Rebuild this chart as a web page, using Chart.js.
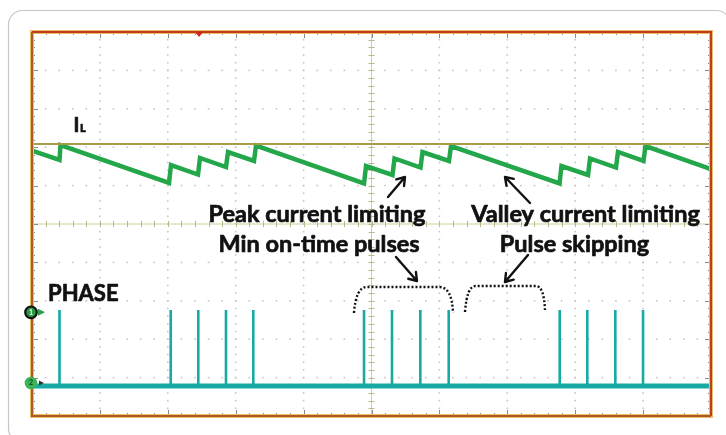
<!DOCTYPE html>
<html>
<head>
<meta charset="utf-8">
<script src="https://cdn.jsdelivr.net/npm/chart.js@4.4.1/dist/chart.umd.min.js"></script>
<style>
  html, body { margin: 0; padding: 0; background: #fff; overflow: hidden; }
  #wrap { width: 726px; height: 435px; position: relative; }
</style>
</head>
<body>
<div id="wrap"><canvas id="scope" width="726" height="435"></canvas></div>
<script>
// Screen is 10 x 10 divisions; all values below are in divisions.
const divX = 10;
const divY = 10;

// Inductor current I_L: vertices of the sawtooth (time, level)
const ilTime  = [0, 0.405, 0.420, 2.018, 2.047, 2.445, 2.474, 2.857, 2.887, 3.270, 3.299,
                 4.890, 4.919, 5.309, 5.339, 5.722, 5.751, 6.141, 6.171,
                 7.769, 7.798, 8.189, 8.218, 8.601, 8.630, 9.006, 9.035, 10];
const ilLevel = [6.914, 6.667, 7.057, 6.068, 6.536, 6.289, 6.719, 6.484, 6.875, 6.641, 7.044,
                 6.055, 6.510, 6.276, 6.706, 6.471, 6.875, 6.641, 7.031,
                 6.055, 6.510, 6.276, 6.706, 6.471, 6.875, 6.641, 7.031, 6.432];

// Peak-current limit level for I_L
const ilLimit = 7.083;

// PHASE node: switching pulse instants, pulse top and idle level
const pulseTime = [0.405, 2.043, 2.449, 2.857, 3.259, 4.890, 5.302, 5.719, 6.137,
                   7.772, 8.178, 8.591, 8.999];
const pulseTop = 2.76;
const phaseBase = 0.78;

// Channel reference markers on the left edge and trigger position on top
const ch1Mark = 2.70;
const ch2Mark = 0.86;
const triggerTime = 2.46;

// Annotation text
const labelPeak = ['Peak current limiting', 'Min on-time pulses'];
const labelValley = ['Valley current limiting', 'Pulse skipping'];
const labelPhase = 'PHASE';

// Build datasets
const ilPoints = ilTime.map((t, i) => ({ x: t, y: ilLevel[i] }));
const pulsePoints = [];
pulseTime.forEach(t => {
  pulsePoints.push({ x: t, y: phaseBase }, { x: t, y: pulseTop }, { x: t, y: null });
});

const FONT = 'Lato, "Open Sans", sans-serif';

function heavyText(ctx, txt, px, py) {
  ctx.fillText(txt, px, py);
  ctx.strokeText(txt, px, py);
}

function arrow(ctx, x, y, x0, y0, x1, y1) {
  const ax = x.getPixelForValue(x0), ay = y.getPixelForValue(y0);
  const bx = x.getPixelForValue(x1), by = y.getPixelForValue(y1);
  const ang = Math.atan2(by - ay, bx - ax);
  const h = 9, s = 0.6;
  ctx.beginPath();
  ctx.moveTo(ax, ay); ctx.lineTo(bx, by);
  ctx.moveTo(bx - h * Math.cos(ang - s), by - h * Math.sin(ang - s));
  ctx.lineTo(bx, by);
  ctx.lineTo(bx - h * Math.cos(ang + s), by - h * Math.sin(ang + s));
  ctx.stroke();
}

function bracket(ctx, x, y, xl, xcl, xcr, xr, yb, ybr, yt) {
  const pl = x.getPixelForValue(xl), pcl = x.getPixelForValue(xcl);
  const pcr = x.getPixelForValue(xcr), pr = x.getPixelForValue(xr);
  const pb = y.getPixelForValue(yb), pbr = y.getPixelForValue(ybr), pt = y.getPixelForValue(yt);
  ctx.beginPath();
  ctx.moveTo(pl, pb);
  ctx.quadraticCurveTo(pl + 2, pt, pcl, pt);
  ctx.lineTo(pcr, pt);
  ctx.quadraticCurveTo(pr - 1, pt, pr, pbr);
  ctx.stroke();
}

const scopePlugin = {
  id: 'scopeScreen',
  beforeDraw(chart) {
    const { ctx, chartArea: a, scales: { x, y } } = chart;
    ctx.save();
    ctx.fillStyle = '#fff';
    ctx.fillRect(0, 0, chart.width, chart.height);

    // card outline
    ctx.strokeStyle = '#c6c6c6';
    ctx.lineWidth = 1.2;
    ctx.beginPath();
    ctx.roundRect(8.5, 10.5, 722, 432, 14);
    ctx.stroke();

    // dotted graticule
    ctx.fillStyle = '#c6c6c6';
    for (let i = 1; i < divX; i++) {
      if (i === divX / 2) continue;
      const px = x.getPixelForValue(i);
      for (let j = 1; j < divY * 5; j++) {
        const py = y.getPixelForValue(j / 5);
        ctx.fillRect(px - 0.8, py - 0.8, 1.6, 1.6);
      }
    }
    for (let j = 1; j < divY; j++) {
      if (j === divY / 2) continue;
      const py = y.getPixelForValue(j);
      for (let i = 1; i < divX * 5; i++) {
        const px = x.getPixelForValue(i / 5);
        ctx.fillRect(px - 0.8, py - 0.8, 1.6, 1.6);
      }
    }

    // centre axes with minor ticks
    const cx = x.getPixelForValue(divX / 2), cy = y.getPixelForValue(divY / 2);
    ctx.strokeStyle = '#d3cf98';
    ctx.lineWidth = 1;
    ctx.beginPath();
    ctx.moveTo(cx, a.top); ctx.lineTo(cx, a.bottom);
    ctx.moveTo(a.left, cy); ctx.lineTo(a.right, cy);
    ctx.stroke();
    ctx.strokeStyle = '#b9b88e';
    ctx.beginPath();
    for (let j = 1; j < divY * 5; j++) {
      const py = Math.round(y.getPixelForValue(j / 5)) + 0.5;
      ctx.moveTo(cx - 3, py); ctx.lineTo(cx + 3, py);
    }
    for (let i = 1; i < divX * 5; i++) {
      const px = Math.round(x.getPixelForValue(i / 5)) + 0.5;
      ctx.moveTo(px, cy - 3); ctx.lineTo(px, cy + 3);
    }
    ctx.stroke();

    // ticks along the frame
    ctx.strokeStyle = '#8a8a8a';
    ctx.lineWidth = 1;
    ctx.beginPath();
    for (let j = 1; j < divY * 5; j++) {
      const py = Math.round(y.getPixelForValue(j / 5)) + 0.5;
      const len = j % 5 === 0 ? 6 : 3;
      ctx.moveTo(a.left, py); ctx.lineTo(a.left + len, py);
      ctx.moveTo(a.right, py); ctx.lineTo(a.right - len, py);
    }
    for (let i = 1; i < divX * 5; i++) {
      const px = Math.round(x.getPixelForValue(i / 5)) + 0.5;
      const len = i % 5 === 0 ? 6 : 3;
      ctx.moveTo(px, a.top); ctx.lineTo(px, a.top + len);
      ctx.moveTo(px, a.bottom); ctx.lineTo(px, a.bottom - len);
    }
    ctx.stroke();
    ctx.restore();
  },
  afterDatasetsDraw(chart) {
    const { ctx, chartArea: a, scales: { x, y } } = chart;
    ctx.save();

    // frame
    ctx.lineWidth = 4;
    ctx.strokeStyle = '#e6c066';
    ctx.strokeRect(a.left, a.top, a.right - a.left, a.bottom - a.top);
    ctx.lineWidth = 2;
    ctx.strokeStyle = '#c23b1d';
    ctx.beginPath();
    ctx.moveTo(a.left, a.top); ctx.lineTo(a.right, a.top); ctx.lineTo(a.right, a.bottom);
    ctx.stroke();
    ctx.strokeStyle = '#ad5a25';
    ctx.beginPath();
    ctx.moveTo(a.left, a.top); ctx.lineTo(a.left, a.bottom); ctx.lineTo(a.right, a.bottom);
    ctx.stroke();

    // trigger position marker
    const tx = x.getPixelForValue(triggerTime);
    ctx.fillStyle = '#d4231b';
    ctx.beginPath();
    ctx.moveTo(tx - 4, a.top); ctx.lineTo(tx + 4, a.top); ctx.lineTo(tx, a.top + 5);
    ctx.closePath(); ctx.fill();

    // channel markers
    const m1 = y.getPixelForValue(ch1Mark), m2 = y.getPixelForValue(ch2Mark);
    ctx.fillStyle = '#2e9e48';
    ctx.beginPath(); ctx.moveTo(a.left + 6, m1 - 3.5); ctx.lineTo(a.left + 13, m1); ctx.lineTo(a.left + 6, m1 + 3.5); ctx.fill();
    ctx.beginPath(); ctx.arc(a.left - 1, m1, 5.8, 0, Math.PI * 2);
    ctx.fillStyle = '#2a9a46'; ctx.fill();
    ctx.lineWidth = 2.2; ctx.strokeStyle = '#111'; ctx.stroke();
    ctx.fillStyle = '#333';
    ctx.beginPath(); ctx.moveTo(a.left + 7, m2 - 2.5); ctx.lineTo(a.left + 12, m2); ctx.lineTo(a.left + 7, m2 + 2.5); ctx.fill();
    ctx.beginPath(); ctx.arc(a.left - 1, m2, 6.3, 0, Math.PI * 2);
    ctx.fillStyle = '#3cb259'; ctx.fill();
    ctx.font = 'bold 7px ' + FONT;
    ctx.textAlign = 'center'; ctx.textBaseline = 'middle';
    ctx.fillStyle = '#e8ffe8'; ctx.fillText('1', a.left - 1, m1);
    ctx.fillStyle = '#114422'; ctx.fillText('2', a.left - 1, m2);

    // labels
    ctx.fillStyle = '#111';
    ctx.strokeStyle = '#111';
    ctx.lineWidth = 0.7;
    ctx.lineJoin = 'round';
    ctx.textBaseline = 'alphabetic';
    ctx.textAlign = 'left';
    ctx.font = 'bold 20px ' + FONT;
    const ix = x.getPixelForValue(0.611), iy = y.getPixelForValue(7.396);
    heavyText(ctx, 'I', ix, iy);
    const iw = ctx.measureText('I').width;
    ctx.font = 'bold 11px ' + FONT;
    heavyText(ctx, 'L', ix + iw + 0.5, iy);

    ctx.font = 'bold 22px ' + FONT;
    heavyText(ctx, labelPhase, x.getPixelForValue(0.236), y.getPixelForValue(2.995));
    ctx.textAlign = 'center';
    ctx.font = 'bold 23.5px ' + FONT;
    heavyText(ctx, labelPeak[0], x.getPixelForValue(4.197), y.getPixelForValue(5.052));
    heavyText(ctx, labelPeak[1], x.getPixelForValue(4.227), y.getPixelForValue(4.271));
    heavyText(ctx, labelValley[0], x.getPixelForValue(8.152), y.getPixelForValue(5.052));
    heavyText(ctx, labelValley[1], x.getPixelForValue(7.990), y.getPixelForValue(4.271));

    // arrows
    ctx.strokeStyle = '#111';
    ctx.lineWidth = 2.4;
    ctx.lineCap = 'round';
    ctx.lineJoin = 'round';
    arrow(ctx, x, y, 5.243, 5.703, 5.493, 6.224);
    arrow(ctx, x, y, 7.334, 5.547, 6.966, 6.224);
    arrow(ctx, x, y, 5.361, 4.141, 5.670, 3.516);
    arrow(ctx, x, y, 7.305, 4.193, 6.966, 3.490);

    // dotted brackets
    ctx.lineCap = 'butt';
    ctx.lineWidth = 2.4;
    ctx.setLineDash([2, 2]);
    bracket(ctx, x, y, 4.742, 4.930, 6.000, 6.200, 2.682, 2.682, 3.359);
    bracket(ctx, x, y, 6.377, 6.530, 7.420, 7.555, 2.708, 2.760, 3.385);
    ctx.restore();
  }
};

new Chart(document.getElementById('scope'), {
  type: 'line',
  data: {
    datasets: [
      {
        label: 'I_L limit',
        data: [{ x: 0, y: ilLimit }, { x: divX, y: ilLimit }],
        borderColor: '#a99c48',
        borderWidth: 2,
        pointRadius: 0
      },
      {
        label: 'I_L',
        data: ilPoints,
        borderColor: '#23a74a',
        borderWidth: 4.5,
        pointRadius: 0,
        tension: 0
      },
      {
        label: 'PHASE idle',
        data: [{ x: 0, y: phaseBase }, { x: divX, y: phaseBase }],
        borderColor: '#17aaa4',
        borderWidth: 5,
        pointRadius: 0
      },
      {
        label: 'PHASE',
        data: pulsePoints,
        borderColor: '#17aaa4',
        borderWidth: 2.6,
        pointRadius: 0,
        spanGaps: false
      }
    ]
  },
  options: {
    responsive: false,
    animation: false,
    devicePixelRatio: 1,
    layout: { padding: { left: 32, top: 32, right: 15, bottom: 19 } },
    plugins: { legend: { display: false }, tooltip: { enabled: false } },
    scales: {
      x: { type: 'linear', min: 0, max: divX, display: false },
      y: { type: 'linear', min: 0, max: divY, display: false }
    }
  },
  plugins: [scopePlugin]
});
</script>
</body>
</html>
